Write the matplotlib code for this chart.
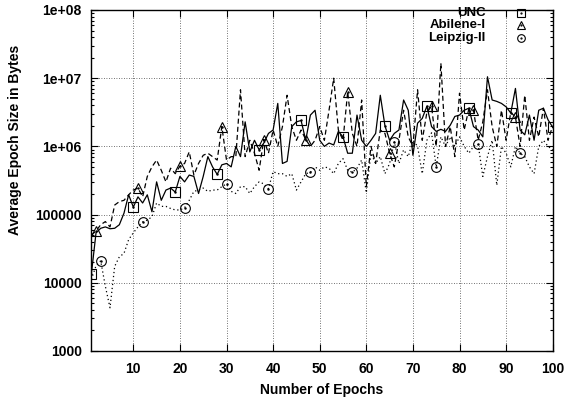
import matplotlib
matplotlib.use("Agg")
import matplotlib.pyplot as plt
from matplotlib.ticker import LogLocator, FixedLocator, NullFormatter

plt.rcParams['font.family'] = ['Liberation Sans', 'DejaVu Sans']
plt.rcParams['font.weight'] = 'bold'

epochs = list(range(1, 101))

# average epoch size in bytes
unc = [
    13500, 54000, 63000, 66000, 62000, 63000, 71000, 105000, 195000, 129000,
    182000, 148000, 195000, 110000, 302000, 162000, 229000, 245000, 214000, 363000,
    302000, 380000, 363000, 204000, 363000, 708000, 501000, 389000, 537000, 562000,
    501000, 1.0e6, 708000, 2.29e6, 832000, 1.23e6, 891000, 1.12e6, 1.55e6, 1.74e6,
    4.27e6, 562000, 603000, 1.95e6, 2.29e6, 2.40e6, 1.23e6, 2.88e6, 3.39e6, 1.23e6,
    1.0e6, 1.12e6, 1.05e6, 1.66e6, 1.38e6, 794000, 794000, 2.88e6, 1.23e6, 1.0e6,
    1.23e6, 1.55e6, 5.62e6, 2.0e6, 1.23e6, 1.55e6, 1.74e6, 4.79e6, 3.39e6, 741000,
    2.19e6, 2.57e6, 3.89e6, 1.95e6, 1.66e6, 1.78e6, 1.66e6, 2.04e6, 2.75e6, 2.88e6,
    3.39e6, 3.63e6, 1.95e6, 1.74e6, 1.38e6, 1.05e7, 4.79e6, 4.57e6, 4.27e6, 3.80e6,
    3.09e6, 7.08e6, 1.74e6, 1.48e6, 2.88e6, 1.23e6, 3.39e6, 3.63e6, 2.45e6, 1.91e6,
]

abilene = [
    50000, 57500, 71000, 79000, 66000, 138000, 155000, 162000, 195000, 229000,
    245000, 182000, 363000, 501000, 631000, 447000, 302000, 479000, 398000, 513000,
    562000, 832000, 380000, 562000, 741000, 794000, 708000, 631000, 1.95e6, 631000,
    708000, 708000, 6.76e6, 708000, 1.23e6, 794000, 447000, 1.26e6, 794000, 1.74e6,
    1.0e6, 1.95e6, 5.62e6, 1.95e6, 1.23e6, 1.74e6, 1.26e6, 1.0e6, 1.23e6, 1.95e6,
    1.23e6, 3.39e6, 1.0e7, 1.74e6, 1.23e6, 6.31e6, 1.55e6, 1.0e6, 4.79e6, 257000,
    1.0e6, 562000, 1.74e6, 1.55e6, 794000, 501000, 1.23e6, 3.39e6, 1.38e6, 1.0e6,
    6.76e6, 1.23e6, 3.16e6, 3.89e6, 1.0e6, 1.66e7, 1.0e6, 1.95e6, 708000, 6.03e6,
    1.74e6, 3.55e6, 3.39e6, 1.23e6, 2.29e6, 6.76e6, 1.95e6, 1.0e6, 3.39e6, 1.23e6,
    3.16e6, 2.69e6, 1.0e6, 5.62e6, 1.23e6, 2.69e6, 1.38e6, 3.63e6, 1.23e6, 2.0e6,
]

leipzig = [
    11200, 17800, 21000, 8900, 4300, 17400, 24000, 27000, 43000, 54000,
    66000, 78000, 83000, 93000, 148000, 132000, 132000, 123000, 117000, 117000,
    126000, 162000, 219000, 229000, 245000, 219000, 229000, 229000, 257000, 282000,
    219000, 204000, 257000, 257000, 204000, 257000, 302000, 282000, 240000, 427000,
    398000, 398000, 363000, 398000, 229000, 302000, 398000, 417000, 501000, 447000,
    501000, 479000, 398000, 562000, 661000, 447000, 417000, 479000, 631000, 209000,
    794000, 562000, 708000, 398000, 562000, 1.17e6, 562000, 891000, 708000, 1.23e6,
    1.0e6, 398000, 1.23e6, 1.58e6, 501000, 1.38e6, 1.0e6, 1.38e6, 1.0e6, 1.38e6,
    1.0e6, 794000, 1.0e6, 1.07e6, 363000, 708000, 1.23e6, 269000, 1.0e6, 794000,
    501000, 1.0e6, 794000, 708000, 501000, 398000, 1.0e6, 1.23e6, 1.0e6, 891000,
]

series = [
    ("UNC", unc, "-", "s", 0),
    ("Abilene-I", abilene, (0, (4, 2.5)), "^", 1),
    ("Leipzig-II", leipzig, (0, (1, 2.2)), "o", 2),
]

fig = plt.figure(figsize=(5.64, 4.0), dpi=100)
ax = fig.add_axes([0.162, 0.1225, 0.818, 0.8525])

for name, vals, ls, mk, start in series:
    ax.plot(epochs, vals, color="black", lw=0.9, ls=ls, marker=mk,
            markersize=7, mfc="none", mec="black", mew=0.8,
            markevery=(start, 9))
    ax.plot(epochs, vals, ls="none", marker=".", markersize=1.5,
            color="black", markevery=(start, 9))

ax.set_yscale("log")
ax.set_xlim(1, 100)
ax.set_ylim(1000, 1e8)

ax.xaxis.set_major_locator(FixedLocator(range(10, 101, 10)))
ax.yaxis.set_minor_locator(LogLocator(base=10, subs=range(2, 10), numticks=10))
ax.yaxis.set_minor_formatter(NullFormatter())
ax.set_yticks([1e3, 1e4, 1e5, 1e6, 1e7, 1e8])
ax.set_yticklabels(["1000", "10000", "100000", "1e+06", "1e+07", "1e+08"])

ax.tick_params(which="both", direction="in", top=True, right=True,
               labelsize=10, width=0.8)
ax.tick_params(axis="y", which="major", length=5, pad=7)
ax.tick_params(axis="x", which="major", length=5, pad=8)
ax.tick_params(which="minor", length=2.5)

ax.grid(True, which="major", color="#444444", ls=(0, (1, 2)), lw=0.6)

for sp in ax.spines.values():
    sp.set_linewidth(1.0)

ax.set_xlabel("Number of Epochs", fontsize=10, fontweight="bold", labelpad=5)
ax.set_ylabel("Average Epoch Size in Bytes", fontsize=10, fontweight="bold")
ax.yaxis.set_label_coords(-0.150, 0.62)

# key, gnuplot style: label right-aligned, point sample to its right
key_y = [0.992, 0.955, 0.918]
for (name, vals, ls, mk, start), ky in zip(series, key_y):
    ax.text(0.855, ky, name, transform=ax.transAxes, ha="right", va="center",
            fontsize=9.5, fontweight="bold")
    ax.plot([0.931], [ky], transform=ax.transAxes, ls="none", marker=mk,
            markersize=5.5, mfc="none", mec="black", mew=0.8, clip_on=False)
    ax.plot([0.931], [ky], transform=ax.transAxes, ls="none", marker=".",
            markersize=1.2, color="black", clip_on=False)

fig.savefig("out.png", dpi=100)
